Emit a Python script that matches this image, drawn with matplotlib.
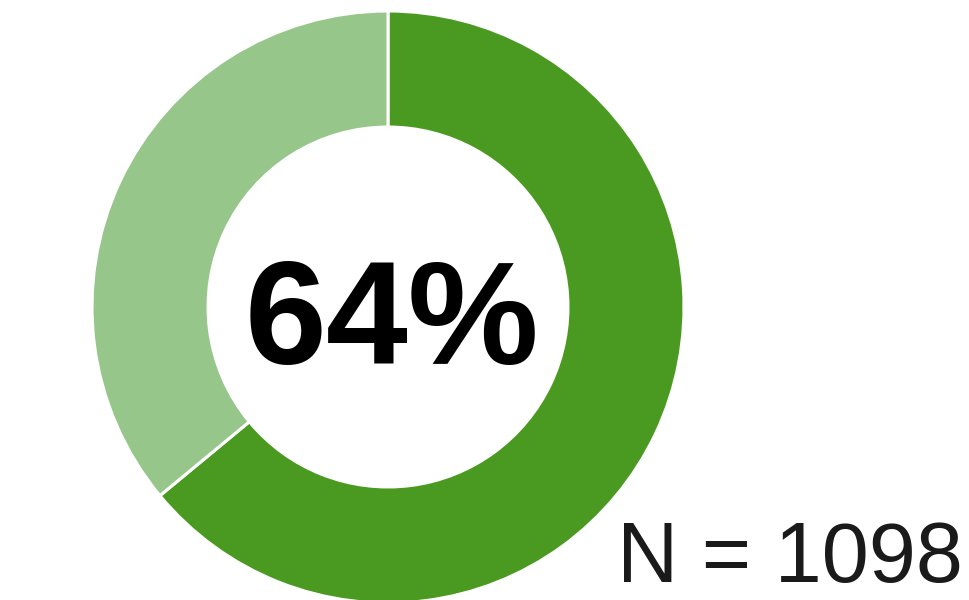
import matplotlib.pyplot as plt

labels = ['Yes', 'No']
values = [64, 36]
colors = ['#4a9a22', '#96c68a']
center_label = '64%'
n_label = 'N = 1098'

fig = plt.figure(figsize=(9.7, 6), dpi=100)
ax = fig.add_axes([92 / 970, -3 / 600, 592 / 970, 592 / 600])

ax.pie(values, colors=colors, startangle=90, counterclock=False, radius=1.0,
       wedgeprops=dict(width=0.392, edgecolor='white', linewidth=2.2))
ax.set_xlim(-1, 1)
ax.set_ylim(-1, 1)
ax.set_aspect('equal')
ax.axis('off')

fig.text(392 / 970, 1 - 364 / 600, center_label, ha='center', va='baseline',
         fontsize=106, fontweight='bold', family='Liberation Sans', color='black')
fig.text(963 / 970, 1 - 582 / 600, n_label, ha='right', va='baseline',
         fontsize=61, family='Liberation Sans', color='#1a1a1a')

fig.savefig('out.png', dpi=100)
